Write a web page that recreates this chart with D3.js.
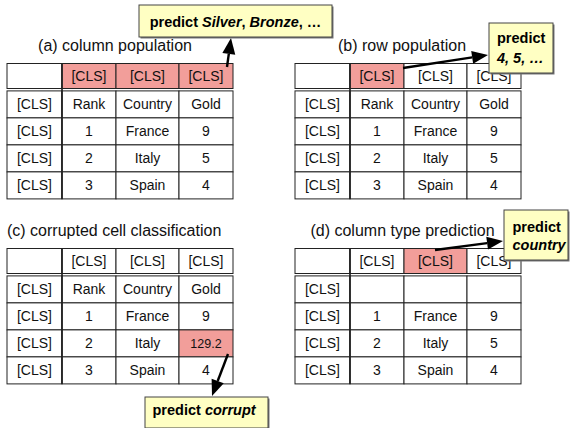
<!DOCTYPE html>
<html>
<head>
<meta charset="utf-8">
<script src="https://cdn.jsdelivr.net/npm/d3@7"></script>
<style>
  body { margin: 0; background: #fff; }
  svg { display: block; font-family: "Liberation Sans", Arial, Helvetica, sans-serif; }
</style>
</head>
<body>
<svg id="fig" width="570" height="428"></svg>
<script>
// table content
const clsToken = '[CLS]';
const colNames = ['Rank', 'Country', 'Gold'];
const rowRank = ['1', '2', '3'];
const rowCountry = ['France', 'Italy', 'Spain'];
const rowGold = ['9', '5', '4'];
const corruptValue = '129.2';

// panels: title, which header cells are highlighted, etc.
const panelTitles = ['(a) column population', '(b) row population',
                     '(c) corrupted cell classification', '(d) column type prediction'];
const panelHighlightCols = [[1, 2, 3], [1], [], [2]];
const panelShowNames = [true, true, true, false];
// corrupted cell: data row index (0 = France) and column
const panelCorrupt = [null, null, {row: 1, col: 3}, null];

// callouts
const calloutLines = [
  [[{t: 'predict ', i: false}, {t: 'Silver', i: true}, {t: ', ', i: false}, {t: 'Bronze', i: true}, {t: ', …', i: false}]],
  [[{t: 'predict', i: false}], [{t: '4, 5, …', i: true}]],
  [[{t: 'predict ', i: false}, {t: 'corrupt', i: true}]],
  [[{t: 'predict', i: false}], [{t: 'country', i: true}]]
];

const svg = d3.select('#fig');

const pink = '#f29e9a';
const lineCol = '#222';

// panel origins (left edge, header top)
const panelX = [7, 295, 7, 295];
const panelY = [63.5, 63.5, 248.5, 248.5];

// column edges within a table
const colX = d3.scaleLinear().domain([0, 1, 2, 3, 4]).range([0, 55, 109, 172, 226]);
const headerH = 25;
const gap = 2.4;
const rowH = 27;

function cellsFor(p) {
  const rows = [];
  rows.push([clsToken].concat(panelShowNames[p] ? colNames : ['', '', '']));
  for (let r = 0; r < 3; r++) {
    rows.push([clsToken, rowRank[r], rowCountry[r], rowGold[r]]);
  }
  const c = panelCorrupt[p];
  if (c) rows[c.row + 1][c.col] = corruptValue;
  return rows;
}

function drawPanel(p) {
  const g = svg.append('g').attr('transform', `translate(${panelX[p]},${panelY[p]})`);
  const yBody = d3.scaleLinear().domain([0, 4]).range([headerH + gap, headerH + gap + 4 * rowH]);

  // header row
  const hdr = [''].concat([clsToken, clsToken, clsToken]);
  g.selectAll('rect.h').data(hdr).join('rect')
    .attr('x', (d, i) => colX(i)).attr('y', 0)
    .attr('width', (d, i) => colX(i + 1) - colX(i)).attr('height', headerH)
    .attr('fill', (d, i) => panelHighlightCols[p].includes(i) ? pink : '#fff')
    .attr('stroke', lineCol).attr('stroke-width', 1);
  g.selectAll('text.h').data(hdr).join('text')
    .attr('x', (d, i) => (colX(i) + colX(i + 1)) / 2).attr('y', headerH / 2 + 5)
    .attr('text-anchor', 'middle').attr('font-size', 14).attr('fill', '#111')
    .text(d => d);

  // body
  const rows = cellsFor(p);
  const c = panelCorrupt[p];
  rows.forEach((vals, r) => {
    vals.forEach((v, i) => {
      const hl = c && c.row + 1 === r && c.col === i;
      g.append('rect')
        .attr('x', colX(i)).attr('y', yBody(r))
        .attr('width', colX(i + 1) - colX(i)).attr('height', yBody(r + 1) - yBody(r))
        .attr('fill', hl ? pink : '#fff')
        .attr('stroke', lineCol).attr('stroke-width', 1);
      g.append('text')
        .attr('x', (colX(i) + colX(i + 1)) / 2).attr('y', yBody(r) + rowH / 2 + 5)
        .attr('text-anchor', 'middle').attr('font-size', hl ? 12.5 : 14).attr('fill', '#111')
        .text(v);
    });
  });
  // heavier separator after the [CLS] column
  g.append('line')
    .attr('x1', colX(1)).attr('x2', colX(1))
    .attr('y1', 0).attr('y2', yBody(4))
    .attr('stroke', lineCol).attr('stroke-width', 1.7);
}

d3.range(4).forEach(drawPanel);

// titles
const titlePos = [
  {x: 115, y: 51, a: 'middle'},
  {x: 402, y: 51, a: 'middle'},
  {x: 7, y: 236, a: 'start'},
  {x: 402.5, y: 236, a: 'middle'}
];
svg.selectAll('text.title').data(panelTitles).join('text')
  .attr('class', 'title')
  .attr('x', (d, i) => titlePos[i].x).attr('y', (d, i) => titlePos[i].y)
  .attr('text-anchor', (d, i) => titlePos[i].a)
  .attr('font-size', 16).attr('fill', '#111')
  .text(d => d);

// arrows (line + filled head)
const arrows = [
  {x1: 227, y1: 67, x2: 231, y2: 38},
  {x1: 403, y1: 68, x2: 488, y2: 55},
  {x1: 228, y1: 354, x2: 212, y2: 396},
  {x1: 435, y1: 250, x2: 503, y2: 241}
];
const headLen = 16, headHalf = 6.5;
arrows.forEach(a => {
  const ang = Math.atan2(a.y2 - a.y1, a.x2 - a.x1);
  const bx = a.x2 - headLen * Math.cos(ang), by = a.y2 - headLen * Math.sin(ang);
  svg.append('line')
    .attr('x1', a.x1).attr('y1', a.y1).attr('x2', bx).attr('y2', by)
    .attr('stroke', '#000').attr('stroke-width', 2.4);
  const nx = -Math.sin(ang) * headHalf, ny = Math.cos(ang) * headHalf;
  svg.append('path')
    .attr('d', d3.line()([[a.x2, a.y2], [bx + nx, by + ny], [bx - nx, by - ny]]) + 'Z')
    .attr('fill', '#000');
});

// callout boxes
const boxes = [
  {x: 139, y: 5, w: 193, h: 32, tx: 235.5, ty: [27], a: 'middle'},
  {x: 489, y: 23, w: 64, h: 50, tx: 497, ty: [43, 63], a: 'start'},
  {x: 145, y: 397, w: 123, h: 31, tx: 152.5, ty: [415], a: 'start'},
  {x: 504, y: 210, w: 64, h: 50, tx: 512.5, ty: [232, 250], a: 'start'}
];
boxes.forEach((b, k) => {
  svg.append('rect').attr('x', b.x + 1.5).attr('y', b.y + 1.5).attr('width', b.w).attr('height', b.h)
    .attr('fill', '#777');
  svg.append('rect').attr('x', b.x).attr('y', b.y).attr('width', b.w).attr('height', b.h)
    .attr('fill', '#ffffc3').attr('stroke', '#444').attr('stroke-width', 1);
  calloutLines[k].forEach((line, li) => {
    const t = svg.append('text')
      .attr('x', b.tx).attr('y', b.ty[li]).attr('text-anchor', b.a)
      .attr('font-size', 14.5).attr('font-weight', 'bold').attr('fill', '#000');
    line.forEach(s => {
      t.append('tspan').attr('font-style', s.i ? 'italic' : 'normal').text(s.t);
    });
  });
});
</script>
</body>
</html>
